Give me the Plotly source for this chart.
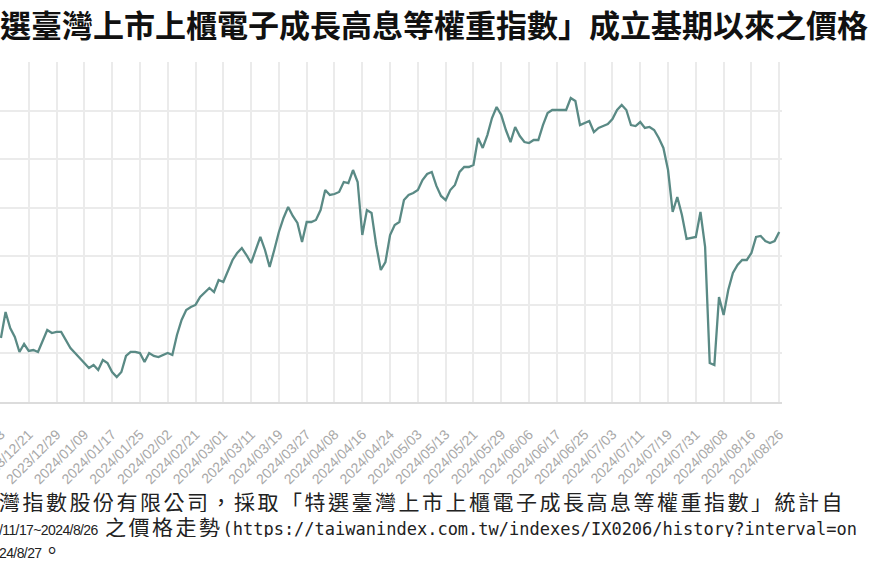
import pandas as pd
import plotly.graph_objects as go

# crop of a larger chart: left/right edges of the title and footnote are cut off
TITLE = "選臺灣上市上櫃電子成長高息等權重指數」成立基期以來之價格"
NOTE_1 = "灣指數股份有限公司，採取「特選臺灣上市上櫃電子成長高息等權重指數」統計自"
NOTE_2_DATES = "/11/17~2024/8/26"
NOTE_2_TEXT = " 之價格走勢"
NOTE_2_URL = "(https://taiwanindex.com.tw/indexes/IX0206/history?interval=on"
NOTE_3_DATE = "24/8/27"
NOTE_3_END = "。"

# TWSE closed days in the visible window
HOLIDAYS = [
    "2024-01-01",
    "2024-02-06", "2024-02-07", "2024-02-08", "2024-02-09",
    "2024-02-12", "2024-02-13", "2024-02-14",
    "2024-02-28", "2024-04-04", "2024-04-05", "2024-05-01",
    "2024-06-10", "2024-07-24", "2024-07-25",
]

trading_days = [
    d.strftime("%Y/%m/%d")
    for d in pd.bdate_range("2023-12-13", "2024-08-26")
    if d.strftime("%Y-%m-%d") not in HOLIDAYS
]

# index level, one value per trading day
index_level = [
    10659, 10926, 10762, 10669, 10515, 10597, 10525, 10535, 10515, 10638,
    10741, 10710, 10721, 10721, 10638, 10556, 10504, 10453, 10401, 10350,
    10381, 10329, 10432, 10401, 10309, 10257, 10309, 10474, 10515, 10515,
    10504, 10412, 10504, 10474, 10463, 10484, 10504, 10484, 10690, 10844,
    10947, 10978, 10999, 11081, 11132, 11174, 11132, 11256, 11235, 11359,
    11462, 11534, 11585, 11513, 11431, 11565, 11699, 11565, 11390, 11565,
    11750, 11894, 12007, 11915, 11843, 11647, 11853, 11853, 11874, 11976,
    12182, 12131, 12141, 12162, 12265, 12254, 12388, 12265, 11719, 11976,
    11946, 11616, 11359, 11441, 11719, 11822, 11853, 12079, 12131, 12151,
    12182, 12285, 12347, 12368, 12224, 12121, 12079, 12182, 12234, 12368,
    12419, 12419, 12440, 12718, 12615, 12748, 12923, 13037, 12954, 12800,
    12676, 12831, 12738, 12676, 12666, 12697, 12697, 12851, 12975, 13006,
    13006, 13006, 13006, 13129, 13098, 12851, 12872, 12893, 12779, 12821,
    12841, 12862, 12913, 13006, 13057, 13006, 12851, 12841, 12882, 12821,
    12831, 12800, 12718, 12615, 12388, 11956, 12110, 11925, 11678, 11688,
    11699, 11956, 11596, 10401, 10381, 11081, 10896, 11153, 11328, 11410,
    11462, 11462, 11534, 11699, 11709, 11657, 11637, 11657, 11750,
]

tick_days = trading_days[::6]

fig = go.Figure()
fig.add_scatter(
    x=trading_days, y=index_level,
    mode="lines",
    line=dict(color="#5a8a85", width=2.3),
    showlegend=False,
)

fig.update_xaxes(
    type="category",
    range=[-0.2, 168.6],
    tickvals=tick_days, ticktext=tick_days,
    tickangle=-45,
    tickfont=dict(family="Liberation Sans", size=14, color="#a8a8a8"),
    ticklabelstandoff=17,
    showgrid=True, gridcolor="#ebebeb", gridwidth=1.5,
    showline=True, linecolor="#dcdcdc", linewidth=1.5,
    zeroline=False, automargin=False,
)
fig.update_yaxes(
    range=[10000, 13500], dtick=500,
    showticklabels=False,
    showgrid=True, gridcolor="#ebebeb", gridwidth=1.5,
    zeroline=False, automargin=False,
)

cjk = "Noto Sans CJK TC"
spaced = "letter-spacing:2.5px"
latin = "font-family:'Liberation Sans';font-size:14px;letter-spacing:-0.6px"
mono = "font-family:'DejaVu Sans Mono';font-size:17px"

fig.add_annotation(
    text=f"<b>{TITLE}</b>", xref="paper", yref="paper",
    x=-0.002, y=1.112, xanchor="left", yanchor="middle", showarrow=False,
    font=dict(family=cjk, size=31, color="#111111"),
)
fig.add_annotation(
    text=f'<span style="{spaced}">{NOTE_1}</span>', xref="paper", yref="paper",
    x=-0.004, y=-0.291, xanchor="left", yanchor="middle", showarrow=False,
    font=dict(family=cjk, size=21, color="#222222"), height=22,
)
fig.add_annotation(
    text=(f'<span style="{latin}">{NOTE_2_DATES}</span>'
          f'<span style="{spaced}">{NOTE_2_TEXT}</span>'
          f'<span style="{mono}">{NOTE_2_URL}</span>'),
    xref="paper", yref="paper",
    x=-0.004, y=-0.365, xanchor="left", yanchor="middle", showarrow=False,
    font=dict(family=cjk, size=21, color="#222222"), height=22,
)
fig.add_annotation(
    text=f'<span style="{latin}">{NOTE_3_DATE}</span>{NOTE_3_END}',
    xref="paper", yref="paper",
    x=-0.004, y=-0.432, xanchor="left", yanchor="middle", showarrow=False,
    font=dict(family=cjk, size=21, color="#222222"), height=22,
)

fig.update_layout(
    width=870, height=582,
    margin=dict(l=0, r=88, t=62, b=180),
    paper_bgcolor="white", plot_bgcolor="white",
)

# page's default body margin would push everything 8px down/right
fig.write_html(
    "out.html",
    config={"displayModeBar": False},
    post_script="document.body.style.margin='0';",
)
